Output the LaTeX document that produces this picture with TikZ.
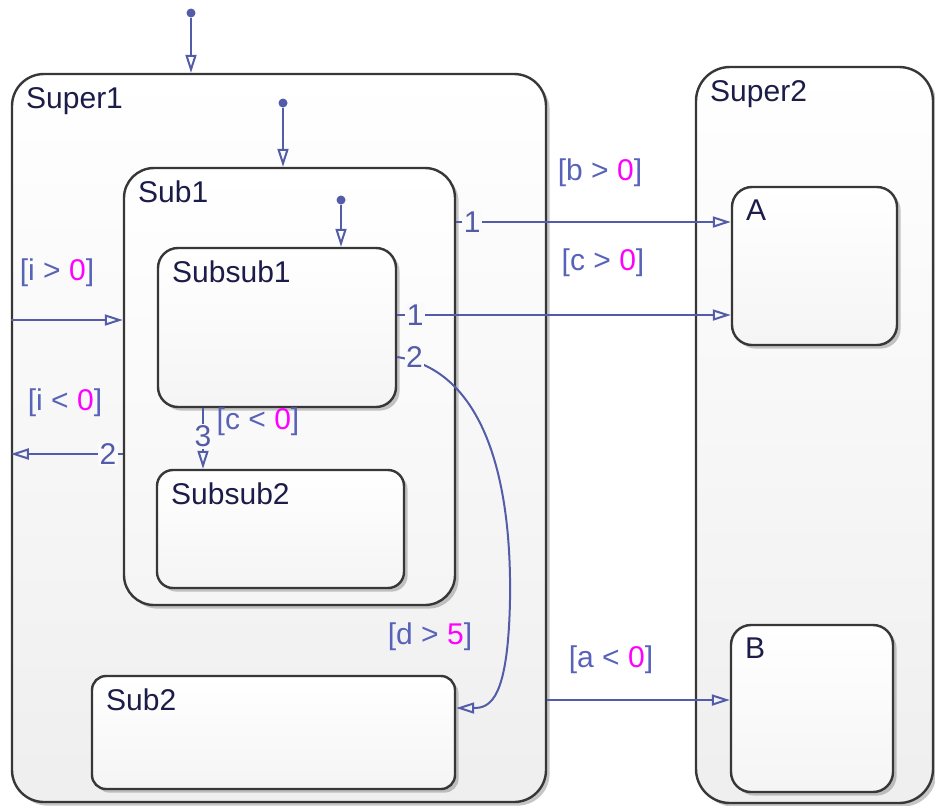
\documentclass[tikz,border=0pt]{standalone}
\usepackage{fontspec}
\setmainfont{Liberation Sans}
\usetikzlibrary{arrows.meta, fit, shadows}
\definecolor{transblue}{RGB}{82,92,168}
\definecolor{guardblue}{RGB}{88,98,185}
\definecolor{guardmag}{RGB}{255,0,255}
\definecolor{namenavy}{RGB}{28,28,72}
\definecolor{edgegray}{RGB}{55,55,55}
\newcommand{\mg}[1]{\textcolor{guardmag}{#1}}

\begin{document}
\begin{tikzpicture}[x=0.5pt, y=-0.5pt, >={Triangle[open, length=9pt, width=5.5pt]},
  every node/.style={font=\fontsize{15}{18}\selectfont},
  state/.style={draw=edgegray, line width=1.2pt, inner sep=0pt, top color=white, bottom color=gray!8,
    drop shadow={shadow xshift=1.8pt, shadow yshift=-1.8pt, opacity=.45}},
  stname/.style={anchor=north west, inner sep=0pt, xshift=7.5pt, yshift=-7pt, text=namenavy},
  trans/.style={->, draw=transblue, line width=1pt},
  guard/.style={text=guardblue},
  num/.style={text=transblue, fill=gray!4, inner sep=0.8pt},
  dot/.style={circle, fill=transblue, inner sep=0pt, minimum size=4.5pt}]
\useasboundingbox (0,0) rectangle (935,805);
\node[state, rounded corners=16pt, bottom color=gray!13, fit={(12,74) (546,802)}, label={[stname]north west:Super1}] (super1) {};
\node[state, rounded corners=17pt, bottom color=gray!13, fit={(696,67) (933,803)}, label={[stname]north west:Super2}] (super2) {};
\node[state, rounded corners=15pt, fit={(124,168) (455,605)}, label={[stname]north west:Sub1}] (sub1) {};
\node[state, rounded corners=10pt, fit={(158,248) (396,407)}, label={[stname]north west:Subsub1}] (subsub1) {};
\node[state, rounded corners=8pt, fit={(157,470) (404,588)}, label={[stname]north west:Subsub2}] (subsub2) {};
\node[state, rounded corners=7pt, fit={(92,676) (455,789)}, label={[stname]north west:Sub2}] (sub2) {};
\node[state, rounded corners=10pt, fit={(732,187) (897,345)}, label={[stname]north west:A}] (stA) {};
\node[state, rounded corners=10pt, fit={(731,625) (893,792)}, label={[stname]north west:B}] (stB) {};

\node[dot] (ini0) at (191,13) {};
\draw[trans] (ini0) -- (ini0 |- super1.north);
\node[dot] (ini1) at (283,103) {};
\draw[trans] (ini1) -- (ini1 |- sub1.north);
\node[dot] (ini2) at (341,200) {};
\draw[trans] (ini2) -- (ini2 |- subsub1.north);

\draw[trans] (sub1.east |- 0,222) -- node[num, pos=0, anchor=west, xshift=2.5pt] {1} (stA.west |- 0,222);
\node[guard] (gb) at (600,173) {[b > \mg{0}]};
\draw[trans] (subsub1.east |- 0,315) -- node[num, pos=0, anchor=west, xshift=3.5pt] {1} (stA.west |- 0,315);
\node[guard] (gc) at (603,263) {[c > \mg{0}]};
\draw[trans] (subsub1.east |- 0,357) .. controls (480,370) and (512,470) .. (510,600)
  .. controls (508,700) and (490,708) .. (sub2.east |- 0,708);
\node[num, anchor=west] (n2) at ([xshift=3.5pt]subsub1.east |- 0,357) {2};
\node[guard] (gd) at (430,637) {[d > \mg{5}]};
\draw[trans] (super1.west |- 0,320) -- (sub1.west |- 0,320);
\node[guard] (gi1) at (57,273) {[i > \mg{0}]};
\draw[trans] (sub1.west |- 0,454) -- node[num, pos=0, anchor=east, xshift=-2pt] {2} (super1.west |- 0,454);
\node[guard] (gi2) at (65,403) {[i < \mg{0}]};
\draw[trans] (subsub1.south -| 203,0) -- node[num, pos=0, anchor=north, yshift=-7.5pt] {3} (subsub2.north -| 203,0);
\node[guard] (gc2) at (258,422) {[c < \mg{0}]};
\draw[trans] (super1.east |- 0,700) -- (stB.west |- 0,700);
\node[guard] (ga) at (611,660) {[a < \mg{0}]};
\end{tikzpicture}
\end{document}
